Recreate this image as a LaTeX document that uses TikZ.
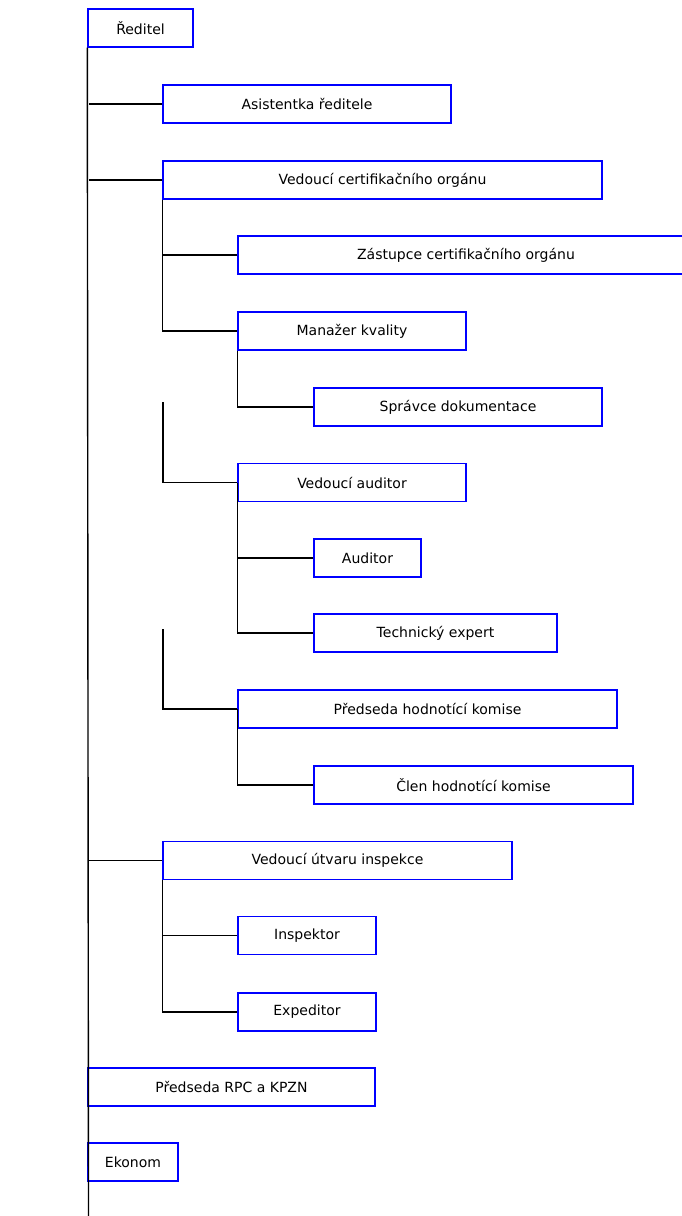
\documentclass[tikz,border=0pt]{standalone}
\usepackage{fontspec}
\setmainfont{DejaVu Sans}
\usepackage{tikz}

\begin{document}
\begin{tikzpicture}[x=1pt,y=-1pt,
    box/.style={draw=blue,line width=1.4pt,rectangle,inner sep=0pt,minimum height=38pt,
      font=\fontsize{14}{16}\selectfont},
    conn/.style={draw=black,line width=1.4pt}]
      \useasboundingbox (0,0) rectangle (682,1216);
      \clip (0,0) rectangle (682,1216);

      \node[box,minimum width=105pt] (reditel) at (140.5,28) {Ředitel};
      \node[box,minimum width=288pt] (asistentka) at (307,104) {Asistentka ředitele};
      \node[box,minimum width=439pt] (vedcert) at (382.5,180) {Vedoucí certifikačního orgánu};
      \node[box,minimum width=456pt] (zastupce) at (466,255) {Zástupce certifikačního orgánu};
      \node[box,minimum width=228pt] (manazer) at (352,331) {Manažer kvality};
      \node[box,minimum width=288pt] (spravce) at (458,407) {Správce dokumentace};
      \node[box,minimum width=228pt] (vedaud) at (352,482.5) {Vedoucí auditor};
      \node[box,minimum width=107pt] (auditor) at (367.5,558) {Auditor};
      \node[box,minimum width=243pt] (technik) at (435.5,633) {Technický expert};
      \node[box,minimum width=379pt] (predhod) at (427.5,709) {Předseda hodnotící komise};
      \node[box,minimum width=319pt] (clen) at (473.5,785) {Člen hodnotící komise};
      \node[box,minimum width=349pt] (vedinsp) at (337.5,860.5) {Vedoucí útvaru inspekce};
      \node[box,minimum width=138pt] (inspektor) at (307,935.5) {Inspektor};
      \node[box,minimum width=138pt] (expeditor) at (307,1012) {Expeditor};
      \node[box,minimum width=287pt] (predrpc) at (231.5,1087) {Předseda RPC a KPZN};
      \node[box,minimum width=90pt] (ekonom) at (133,1162) {Ekonom};

      \coordinate (trunkend) at (88.5,1216);
      \coordinate (audtop) at (163,402);
      \coordinate (hodtop) at (163,629);

      % hlavni linie
      \draw[conn] (reditel.south west) -- (trunkend);
      \draw[conn] (asistentka.west) -- (asistentka.west -| trunkend);
      \draw[conn] (vedcert.west) -- (vedcert.west -| trunkend);
      \draw[conn] (vedinsp.west) -- (vedinsp.west -| trunkend);

      % druha uroven
      \draw[conn] (vedcert.south west) |- (manazer.west);
      \draw[conn] (zastupce.west) -- (zastupce.west -| vedcert.south west);
      \draw[conn] (audtop) |- (vedaud.west);
      \draw[conn] (hodtop) |- (predhod.west);
      \draw[conn] (vedinsp.south west) |- (expeditor.west);
      \draw[conn] (inspektor.west) -- (inspektor.west -| vedinsp.south west);

      % treti uroven
      \draw[conn] (manazer.south west) |- (spravce.west);
      \draw[conn] (vedaud.west) |- (technik.west);
      \draw[conn] (auditor.west) -- (auditor.west -| vedaud.west);
      \draw[conn] (predhod.west) |- (clen.west);
    \end{tikzpicture}
\end{document}
